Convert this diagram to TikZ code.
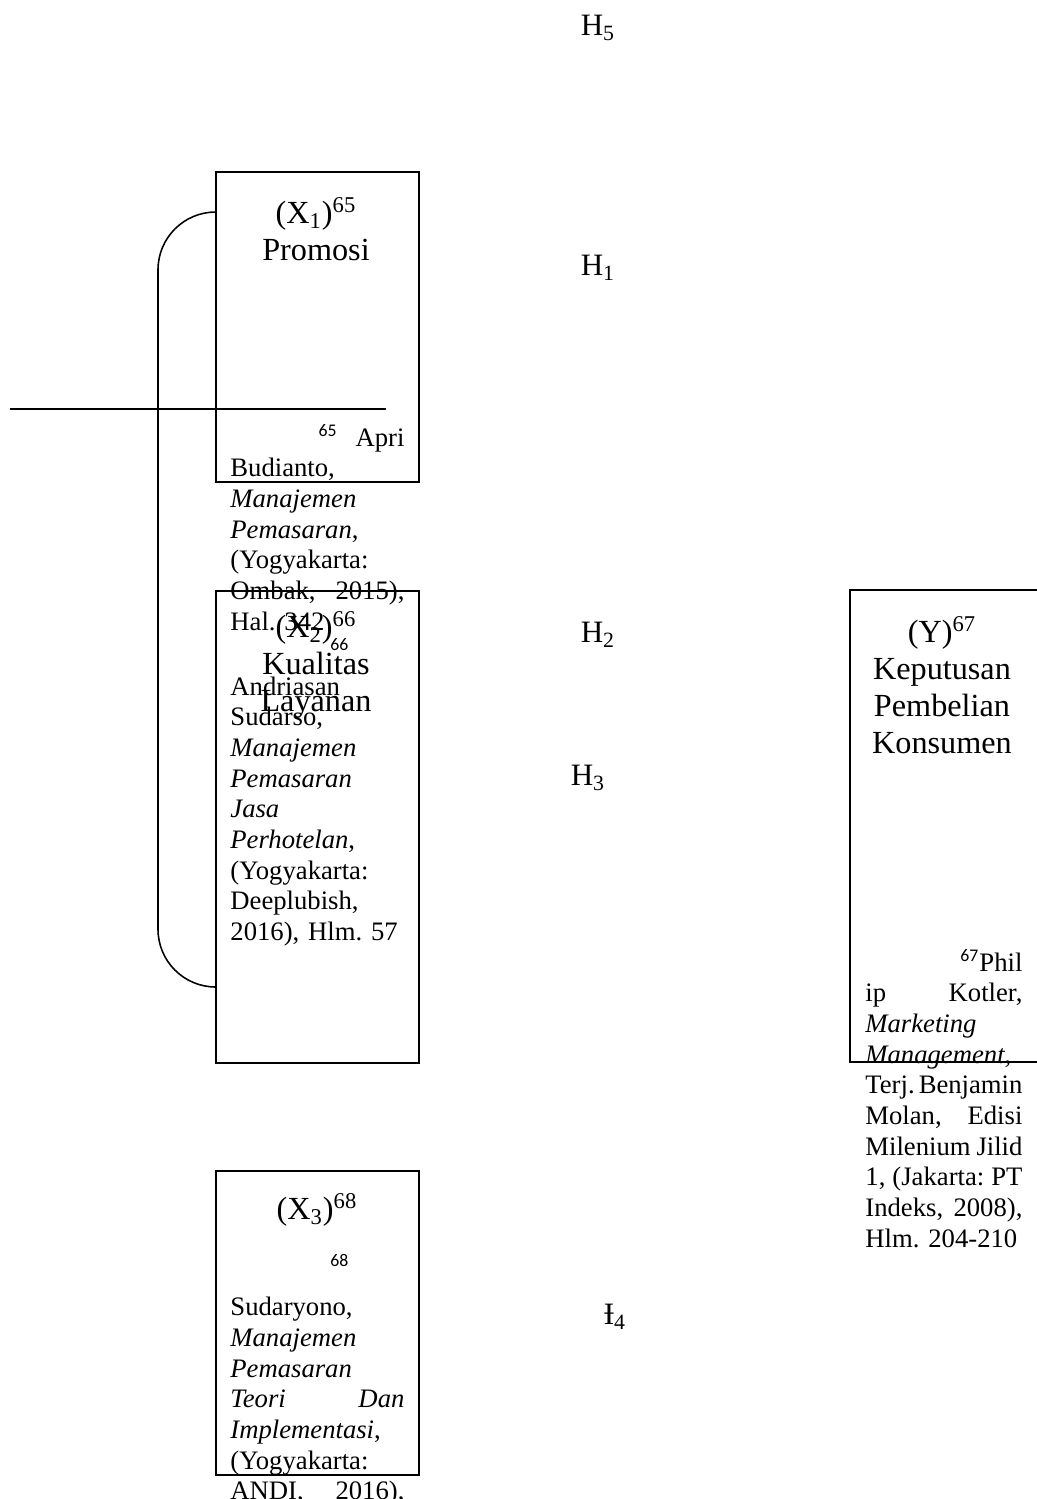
\documentclass[tikz,border=0pt]{standalone}
\usepackage{fontspec}
\setmainfont{Liberation Serif}
\newfontfamily\fnsans{Carlito}
\usetikzlibrary{positioning}
\frenchspacing

\tikzset{
  varbox/.style={draw=black, line width=0.7pt, inner sep=0pt, anchor=north west, minimum width=91.35pt},
  vartitle/.style={align=center, inner sep=0pt, font=\fontsize{14.5}{16.65}\selectfont},
  hyplabel/.style={inner sep=0pt, font=\fontsize{14}{16}\selectfont},
  fnote/.style={align=left, inner sep=0pt, anchor=north west, font=\fontsize{12}{13.8}\selectfont},
  link/.style={black, line width=0.7pt}
}

\begin{document}
\begin{tikzpicture}[x=0.45pt, y=-0.45pt]
% Page
\clip (0,0) rectangle (1037,1499);

% Variable boxes
\node[varbox, minimum height=139.5pt] (x1) at (215,171) {};
\node[varbox, minimum height=212.4pt] (x2) at (215,590) {};
\node[varbox, minimum height=136.8pt] (x3) at (215,1170) {};
\draw[link] (1037,590) -- (850,590) -- (850,1062) -- (1037,1062);

% Box titles
\node[vartitle] (t1) at (316,229) {(X\textsubscript{1})\textsuperscript{65}\\Promosi};
\node[vartitle] (t2) at (316,665) {(X\textsubscript{2})\textsuperscript{66}\\Kualitas\\Layanan};
\node[vartitle] (t3) at (317,1210) {(X\textsubscript{3})\textsuperscript{68}};
\node[vartitle] (ty) at (942,685) {(Y)\textsuperscript{67}\\Keputusan\\Pembelian\\Konsumen};

% Hypotheses
\node[hyplabel] (h5) at (598,28) {H\textsubscript{5}};
\node[hyplabel] (h1) at (598,268) {H\textsubscript{1}};
\node[hyplabel] (h2) at (598,635) {H\textsubscript{2}};
\node[hyplabel] (h3) at (588,778) {H\textsubscript{3}};
\node[hyplabel] (h4) at (615,1317) {Ɨ\textsubscript{4}};

% Bracket between X1 and X2
\coordinate (x1tab) at (215,212);
\coordinate (x2tab) at (215,987);
\draw[link, rounded corners=26pt] (x1tab) -- (158,212) -- (158,987) -- (x2tab);

% Footnote separator
\draw[link] (10,409) -- (386,409);

% Footnotes
\node[fnote, text width=78.3pt] (fn65) at (230,424) {%
\hfill{\fnsans\textsuperscript{65}}\ \ Apri\\
Budianto,\\
\textit{Manajemen}\\
\textit{Pemasaran},\\
(Yogyakarta:\\
Ombak,\hfill 2015),\\
Hal. 342};

\node[fnote, text width=78.3pt] (fn66) at (230,638) {%
\hspace*{45pt}{\fnsans\textsuperscript{66}}\\[2pt]
Andriasan\\
Sudarso,\\
\textit{Manajemen}\\
\textit{Pemasaran}\\
\textit{Jasa}\\
\textit{Perhotelan},\\
(Yogyakarta:\\
Deeplubish,\\
2016), Hlm. 57};

\node[fnote, text width=70.65pt] (fn67) at (865,949) {%
\hfill{\fnsans\textsuperscript{67}}Phil\\
ip\hfill Kotler,\\
\textit{Marketing}\\
\textit{Management},\\
Terj.\hfill Benjamin\\
Molan,\hfill Edisi\\
Milenium\hfill Jilid\\
1,\hfill(Jakarta:\hfill PT\\
Indeks,\hfill 2008),\\
Hlm. 204-210};

\node[fnote, text width=78.3pt] (fn68) at (230,1254) {%
\hspace*{45pt}{\fnsans\textsuperscript{68}}\\[4pt]
Sudaryono,\\
\textit{Manajemen}\\
\textit{Pemasaran}\\
\textit{Teori}\hfill\textit{Dan}\\
\textit{Implementasi},\\
(Yogyakarta:\\
ANDI,\hfill 2016),};

\end{tikzpicture}
\end{document}
